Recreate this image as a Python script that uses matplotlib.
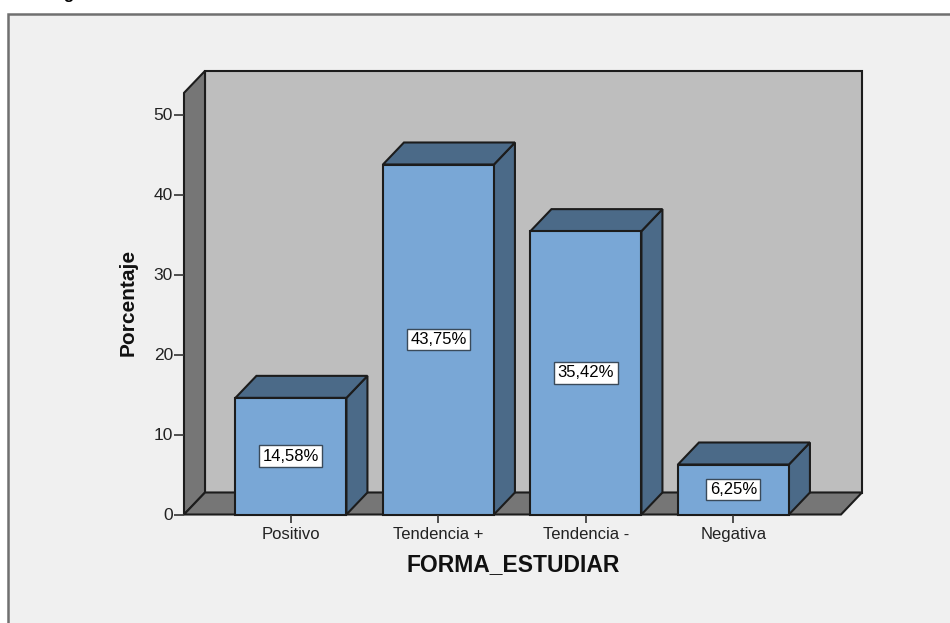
import matplotlib.pyplot as plt
from matplotlib.patches import Polygon, Rectangle

categories = ["Positivo", "Tendencia +", "Tendencia -", "Negativa"]
percentages = [14.58, 43.75, 35.42, 6.25]
value_labels = ["14,58%", "43,75%", "35,42%", "6,25%"]
y_ticks = [0, 10, 20, 30, 40, 50]

FIG_W, FIG_H = 950, 623
EDGE = "#1c1c1c"
FRONT = "#79a7d6"
SIDE = "#4b6a88"
WALL = "#bebebe"
FLOOR = "#767676"
BACKGROUND = "#f0f0f0"

plt.rcParams["font.family"] = ["Liberation Sans", "DejaVu Sans"]


def px_box(left, top, right, bottom):
    return [left / FIG_W, 1 - bottom / FIG_H, (right - left) / FIG_W, (bottom - top) / FIG_H]


def shape(ax, points, color):
    ax.add_patch(Polygon(points, closed=True, facecolor=color, edgecolor=EDGE,
                         linewidth=1.5, joinstyle="miter", clip_on=False))


fig = plt.figure(figsize=(FIG_W / 100, FIG_H / 100), dpi=100, facecolor="white")

# gray panel, runs off the right and bottom of the image
panel = fig.add_axes([0, 0, 1, 1], zorder=0)
panel.set_xlim(0, FIG_W)
panel.set_ylim(FIG_H, 0)
panel.axis("off")
panel.add_patch(Rectangle((8, 14), 960, 640, facecolor=BACKGROUND, edgecolor="#707070", linewidth=1.8))
panel.text(68, -1, "g", fontsize=12, ha="center", va="baseline", color="black", fontweight="bold")

# x units: one category = 147.5 px, y units: one percent = 8 px
ax = fig.add_axes(px_box(184, 71, 862, 514.5), zorder=1)
ax.set_xlim(-0.725, -0.725 + 678 / 147.5)
ax.set_ylim(0, 443.5 / 8)
ax.patch.set_alpha(0)
for spine in ax.spines.values():
    spine.set_visible(False)

dx = 21 / 147.5
dy = 22 / 8
x0, x1 = -0.725, -0.725 + 657 / 147.5
y_top = 52.7

shape(ax, [(x0 + dx, dy), (x1 + dx, dy), (x1 + dx, y_top + dy), (x0 + dx, y_top + dy)], WALL)
shape(ax, [(x0, 0), (x0 + dx, dy), (x0 + dx, y_top + dy), (x0, y_top)], FLOOR)
shape(ax, [(x0, 0), (x1, 0), (x1 + dx, dy), (x0 + dx, dy)], FLOOR)

half = 55.5 / 147.5
for i, value in enumerate(percentages):
    left, right = i - half, i + half
    shape(ax, [(right, 0), (right + dx, dy), (right + dx, value + dy), (right, value)], SIDE)
    shape(ax, [(left, value), (right, value), (right + dx, value + dy), (left + dx, value + dy)], SIDE)
    shape(ax, [(left, 0), (right, 0), (right, value), (left, value)], FRONT)
    ax.text(i, value / 2, value_labels[i], fontsize=12, ha="center", va="center", color="black",
            bbox=dict(boxstyle="square,pad=0.2", facecolor="white", edgecolor="#3a4a5a", linewidth=1),
            zorder=5)

ax.set_xticks(range(len(categories)))
ax.set_xticklabels(categories)
ax.set_yticks(y_ticks)
ax.tick_params(axis="x", length=6, width=1.2, color="#333333", labelsize=12, labelcolor="#222222", pad=3)
ax.tick_params(axis="y", length=7, width=1.2, color="#333333", labelsize=12.5, labelcolor="#222222", pad=1)

fig.text(513 / FIG_W, 1 - 565 / FIG_H, "FORMA_ESTUDIAR", fontsize=16.5, fontweight="bold",
         ha="center", va="center", color="#111111")
fig.text(128 / FIG_W, 1 - 302 / FIG_H, "Porcentaje", fontsize=15, fontweight="bold",
         rotation=90, ha="center", va="center", color="#111111")

fig.savefig("out.png", dpi=100, facecolor="white")
